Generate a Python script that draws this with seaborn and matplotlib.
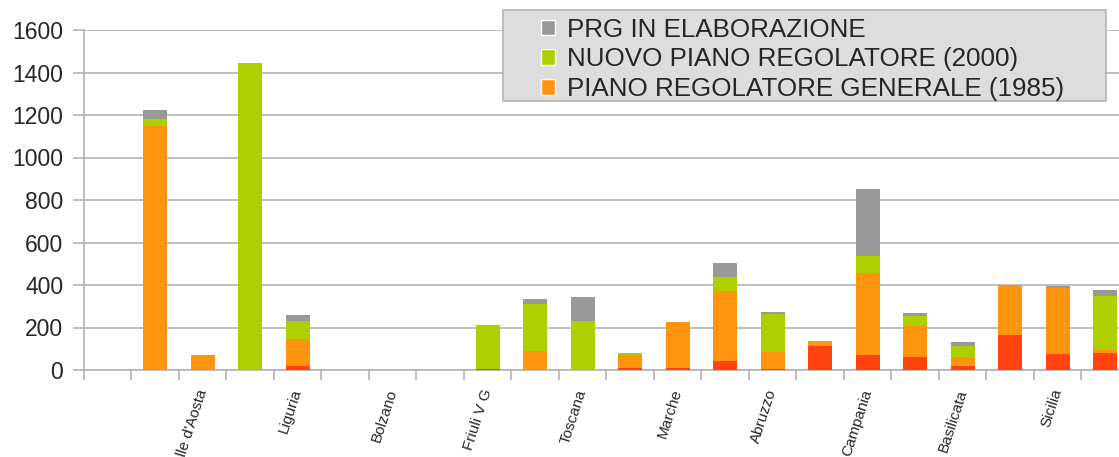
import numpy as np
import pandas as pd
import seaborn as sns
import matplotlib.pyplot as plt
from matplotlib.patches import Patch, Rectangle

REGIONI = ["", "Piemonte", "Valle d'Aosta", "Lombardia", "Liguria", "Trento",
           "Bolzano", "Veneto", "Friuli V G", "Emilia Romagna", "Toscana",
           "Umbria", "Marche", "Lazio", "Abruzzo", "Molise", "Campania",
           "Puglia", "Basilicata", "Calabria", "Sicilia", "Sardegna"]
ALTRO = [0, 0, 0, 0, 20, 0, 0, 0, 3, 0, 0, 9, 9, 42, 5, 113, 71, 61, 19, 165, 75, 80]
PRG_1985 = [0, 1150, 71, 0, 126, 0, 0, 0, 0, 89, 0, 61, 217, 330, 82, 24, 384, 146, 42, 235, 311, 14]
NPR_2000 = [0, 31, 0, 1446, 85, 0, 0, 0, 209, 221, 231, 10, 0, 66, 177, 0, 81, 47, 52, 0, 0, 254]
PRG_ELAB = [0, 43, 0, 0, 28, 0, 0, 0, 0, 24, 113, 0, 0, 66, 9, 0, 316, 14, 19, 0, 9, 28]

LEGENDA = ["PRG IN ELABORAZIONE", "NUOVO PIANO REGOLATORE (2000)",
           "PIANO REGOLATORE GENERALE (1985)"]
COLORI = {"rosso": "#ff420e", "arancio": "#ff950e", "verde": "#aecf00", "grigio": "#999999"}

sns.set_style("white")
plt.rcParams['font.family'] = ['Liberation Sans', 'DejaVu Sans']

df = pd.DataFrame({"regione": REGIONI, "altro": ALTRO, "p1985": PRG_1985,
                   "p2000": NPR_2000, "elab": PRG_ELAB})
# cumulative heights, drawn back to front
df["c_rosso"] = df["altro"]
df["c_arancio"] = df["c_rosso"] + df["p1985"]
df["c_verde"] = df["c_arancio"] + df["p2000"]
df["c_grigio"] = df["c_verde"] + df["elab"]

W, H = 1119, 457
fig = plt.figure(figsize=(W / 100, H / 100), dpi=100)
ax = fig.add_axes([84 / W, 87 / H, 1035 / W, 340 / H])

for col, c in [("c_grigio", "grigio"), ("c_verde", "verde"),
               ("c_arancio", "arancio"), ("c_rosso", "rosso")]:
    sns.barplot(data=df, x="regione", y=col, color=COLORI[c], saturation=1,
                width=0.5, order=REGIONI, ax=ax, zorder=3, linewidth=0, edgecolor="none")

ax.set_xlim(-0.5, 21.29)
ax.set_ylim(0, 1600)
ax.set_yticks(np.arange(0, 1601, 200))
ax.yaxis.grid(True, color="#b3b3b3", lw=1.2, zorder=0)
ax.xaxis.grid(False)
ax.set_xlabel("")
ax.set_ylabel("")

for s in ["top", "right"]:
    ax.spines[s].set_visible(False)
for s in ["left", "bottom"]:
    ax.spines[s].set_color("#b3b3b3")
    ax.spines[s].set_linewidth(1.2)

# tick marks at category boundaries, labels every other category
ax.set_xticks(np.arange(-0.5, 21.0, 1.0))
ax.set_xticklabels([])
ax.set_xticks(np.arange(0, 22, 2), minor=True)
ax.set_xticklabels([REGIONI[i] for i in range(0, 22, 2)], minor=True,
                   rotation=72, ha="right", va="center", rotation_mode="anchor",
                   fontsize=11)
ax.tick_params(axis="x", which="major", length=7.5, width=1.2, color="#b3b3b3", direction="out")
ax.tick_params(axis="x", which="minor", length=0, pad=14)
ax.tick_params(axis="y", length=8, width=1.2, color="#b3b3b3", pad=7, labelsize=16.5)
ax.tick_params(axis="both", bottom=True, left=True, which="both")

# legend box (wider than the entries, as in the original)
box = Rectangle((503 / W, 1 - 101 / H), 603 / W, 91 / H, transform=fig.transFigure,
                facecolor="#dddddd", edgecolor="#b3b3b3", lw=1.2, zorder=4)
fig.add_artist(box)

handles = [Patch(facecolor=COLORI["grigio"]), Patch(facecolor=COLORI["verde"]),
           Patch(facecolor=COLORI["arancio"])]
leg = fig.legend(handles, LEGENDA, loc="upper left",
                 bbox_to_anchor=(538 / W, 1 - 15 / H), bbox_transform=fig.transFigure,
                 frameon=False, fontsize=18.7, handlelength=0.55, handleheight=0.55,
                 handletextpad=0.45, labelspacing=0.22, borderpad=0.1, borderaxespad=0)
leg.set_zorder(6)

fig.savefig("out.png", dpi=100)
